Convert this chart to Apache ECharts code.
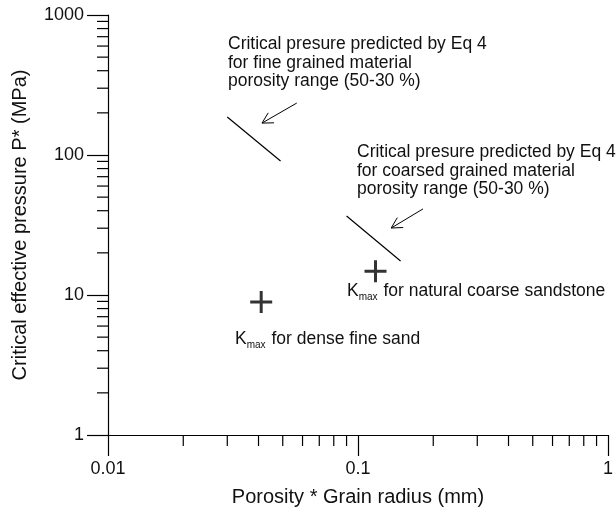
<!DOCTYPE html>
<html><head><meta charset="utf-8">
<script src="https://cdn.jsdelivr.net/npm/echarts@6/dist/echarts.min.js"></script>
<style>html,body{margin:0;padding:0;background:#fff}#c{width:616px;height:517px}</style>
</head><body><div id="c"></div>
<script>
// ---- data ----
const xTickValues = [0.01, 0.1, 1];
const xTickLabels = ['0.01', '0.1', '1'];
const yTickValues = [1, 10, 100, 1000];
const yTickLabels = ['1', '10', '100', '1000'];
const xMinorTicks = [0.02,0.03,0.04,0.05,0.06,0.07,0.08,0.09,0.2,0.3,0.4,0.5,0.6,0.7,0.8,0.9];
const yMinorTicks = [2,3,4,5,6,7,8,9,20,30,40,50,60,70,80,90,200,300,400,500,600,700,800,900];
const fineLine = [[0.030, 187], [0.049, 90.5]];
const coarseLine = [[0.090, 36.7], [0.148, 17.5]];
const kmaxPoints = [[0.041, 8.9], [0.1175, 14.8]];
const arrowFine = [0.0569, 235, 0.0413, 169];
const arrowCoarse = [0.182, 41.2, 0.1358, 30.1];

const FONT = "'Liberation Sans', Arial, Helvetica, sans-serif";
const chart = echarts.init(document.getElementById('c'), null, {renderer: 'canvas'});

function lbl(vals, labs) {
  return function (v) {
    for (let i = 0; i < vals.length; i++) if (Math.abs(Math.log10(v) - Math.log10(vals[i])) < 1e-6) return labs[i];
    return '';
  };
}

const plusPath = 'path://M9.5,0H12.5V9.5H22V12.5H12.5V22H9.5V12.5H0V9.5H9.5Z';
const TXT = 17.5;
const richK = {
  k: {fontFamily: FONT, fontSize: TXT, fill: '#111', lineHeight: 20, verticalAlign: 'top'},
  s: {fontFamily: FONT, fontSize: 10, fill: '#111', lineHeight: 20, verticalAlign: 'top', padding: [10, 1, 0, 0]},
  n: {fontFamily: FONT, fontSize: TXT, fill: '#111', lineHeight: 20, verticalAlign: 'top'}
};

chart.setOption({
  animation: false,
  backgroundColor: '#fff',
  grid: {left: 108, right: 5, top: 15, bottom: 82, containLabel: false},
  xAxis: {
    type: 'log', logBase: 10, min: 0.01, max: 1,
    name: 'Porosity * Grain radius (mm)', nameLocation: 'middle', nameGap: 52,
    nameTextStyle: {fontFamily: FONT, fontSize: 20, color: '#111'},
    axisLine: {lineStyle: {color: '#000', width: 1.2}},
    axisTick: {length: 21, lineStyle: {color: '#000', width: 1.2}},
    axisLabel: {fontFamily: FONT, fontSize: 18, color: '#111', margin: 25, formatter: lbl(xTickValues, xTickLabels)},
    splitLine: {show: false}
  },
  yAxis: {
    type: 'log', logBase: 10, min: 1, max: 1000,
    name: 'Critical effective pressure P* (MPa)', nameLocation: 'middle', nameGap: 78,
    nameTextStyle: {fontFamily: FONT, fontSize: 20, color: '#111'},
    axisLine: {lineStyle: {color: '#000', width: 1.2}},
    axisTick: {length: 21, lineStyle: {color: '#000', width: 1.2}},
    axisLabel: {fontFamily: FONT, fontSize: 18, color: '#111', margin: 24, formatter: lbl(yTickValues, yTickLabels)},
    splitLine: {show: false}
  },
  series: [
    {
      type: 'custom', clip: false, silent: true,
      data: xMinorTicks.map(v => [v, 1]),
      renderItem: function (params, api) {
        const p = api.coord([api.value(0), api.value(1)]);
        return {type: 'line', shape: {x1: p[0], y1: p[1], x2: p[0], y2: p[1] + 11}, style: {stroke: '#000', lineWidth: 1.2}};
      }
    },
    {
      type: 'custom', clip: false, silent: true,
      data: yMinorTicks.map(v => [0.01, v]),
      renderItem: function (params, api) {
        const p = api.coord([api.value(0), api.value(1)]);
        return {type: 'line', shape: {x1: p[0] - 11, y1: p[1], x2: p[0], y2: p[1]}, style: {stroke: '#000', lineWidth: 1.2}};
      }
    },
    {type: 'line', data: fineLine, symbol: 'none', lineStyle: {color: '#000', width: 1.2}},
    {type: 'line', data: coarseLine, symbol: 'none', lineStyle: {color: '#000', width: 1.2}},
    {type: 'scatter', data: kmaxPoints, symbol: plusPath, symbolSize: 22, itemStyle: {color: '#000'}},
    {
      type: 'custom', clip: false, silent: true,
      data: [arrowFine, arrowCoarse],
      encode: {x: [0, 2], y: [1, 3]},
      renderItem: function (params, api) {
        const a = api.coord([api.value(0), api.value(1)]);
        const b = api.coord([api.value(2), api.value(3)]);
        const ang = Math.atan2(a[1] - b[1], a[0] - b[0]);
        const L = 12, s = 0.5;
        const p1 = [b[0] + L * Math.cos(ang + s), b[1] + L * Math.sin(ang + s)];
        const p2 = [b[0] + L * Math.cos(ang - s), b[1] + L * Math.sin(ang - s)];
        return {type: 'group', children: [
          {type: 'line', shape: {x1: a[0], y1: a[1], x2: b[0], y2: b[1]}, style: {stroke: '#000', lineWidth: 1}},
          {type: 'polyline', shape: {points: [p1, b, p2]}, style: {stroke: '#000', lineWidth: 1, fill: null}}
        ]};
      }
    }
  ],
  graphic: [
    {type: 'text', left: 228, top: 35, style: {text: 'Critical presure predicted by Eq 4\nfor fine grained material\nporosity range (50-30 %)', font: TXT + 'px ' + FONT, lineHeight: 18.5, fill: '#111'}},
    {type: 'text', left: 357, top: 143, style: {text: 'Critical presure predicted by Eq 4\nfor coarsed grained material\nporosity range (50-30 %)', font: TXT + 'px ' + FONT, lineHeight: 18.5, fill: '#111'}},
    {type: 'text', left: 347, top: 282, style: {text: '{k|K}{s|max}{n| for natural coarse sandstone}', rich: richK}},
    {type: 'text', left: 235, top: 330, style: {text: '{k|K}{s|max}{n| for dense fine sand}', rich: richK}}
  ]
});
</script></body></html>
